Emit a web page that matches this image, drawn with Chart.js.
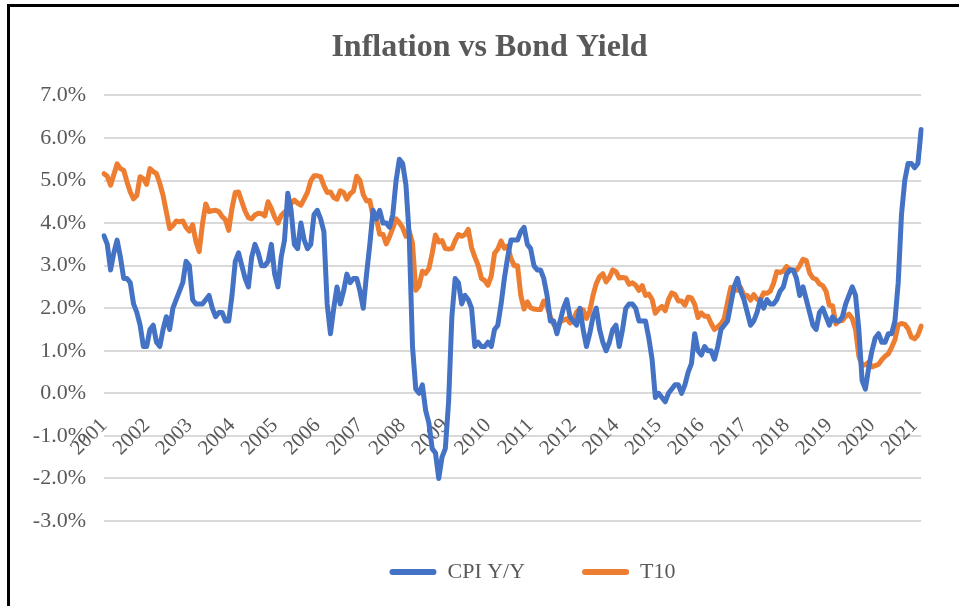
<!DOCTYPE html>
<html>
<head>
<meta charset="utf-8">
<script src="https://cdn.jsdelivr.net/npm/chart.js@4/dist/chart.umd.min.js"></script>
<style>
  html, body { margin: 0; padding: 0; background: #ffffff; }
  #wrap { position: relative; width: 959px; height: 606px; overflow: hidden; }
  #c { position: absolute; left: 0; top: 0; }
  #frame { position: absolute; left: 7px; top: 4px; width: 960px; height: 610px;
           border-top: 3px solid #000; border-left: 3px solid #000; pointer-events: none; }
</style>
</head>
<body>
<div id="wrap">
  <canvas id="c" width="959" height="606"></canvas>
  <div id="frame"></div>
</div>
<script>
// Year tick labels shown on the category axis (one every 13 months, as in the source)
const yearLabels = ['2001','2002','2003','2004','2005','2006','2007','2008','2009','2010',
                    '2011','2012','2014','2015','2016','2017','2018','2019','2020','2021'];
const labelEvery = 13;

// CPI year-over-year, %, monthly Jan 2001 .. Oct 2021
const cpiYoY = [
  3.7, 3.5, 2.9, 3.3, 3.6, 3.2, 2.7, 2.7, 2.6, 2.1, 1.9, 1.6,
  1.1, 1.1, 1.5, 1.6, 1.2, 1.1, 1.5, 1.8, 1.5, 2.0, 2.2, 2.4,
  2.6, 3.1, 3.0, 2.2, 2.1, 2.1, 2.1, 2.2, 2.3, 2.0, 1.8, 1.9,
  1.9, 1.7, 1.7, 2.3, 3.1, 3.3, 3.0, 2.7, 2.5, 3.2, 3.5, 3.3,
  3.0, 3.0, 3.1, 3.5, 2.8, 2.5, 3.2, 3.6, 4.7, 4.3, 3.5, 3.4,
  4.0, 3.6, 3.4, 3.5, 4.2, 4.3, 4.1, 3.8, 2.1, 1.4, 2.0, 2.5,
  2.1, 2.4, 2.8, 2.6, 2.7, 2.7, 2.4, 2.0, 2.8, 3.5, 4.3, 4.1,
  4.3, 4.0, 4.0, 3.9, 4.2, 5.0, 5.5, 5.4, 4.9, 3.7, 1.1, 0.1,
  0.0, 0.2, -0.4, -0.7, -1.3, -1.4, -2.0, -1.5, -1.3, -0.2, 1.8, 2.7,
  2.6, 2.1, 2.3, 2.2, 2.0, 1.1, 1.2, 1.1, 1.1, 1.2, 1.1, 1.5,
  1.6, 2.1, 2.7, 3.2, 3.6, 3.6, 3.6, 3.8, 3.9, 3.5, 3.4, 3.0,
  2.9, 2.9, 2.7, 2.3, 1.7, 1.7, 1.4, 1.7, 2.0, 2.2, 1.8, 1.7,
  1.6, 2.0, 1.5, 1.1, 1.4, 1.8, 2.0, 1.5, 1.2, 1.0, 1.2, 1.5,
  1.6, 1.1, 1.5, 2.0, 2.1, 2.1, 2.0, 1.7, 1.7, 1.7, 1.3, 0.8,
  -0.1, 0.0, -0.1, -0.2, 0.0, 0.1, 0.2, 0.2, 0.0, 0.2, 0.5, 0.7,
  1.4, 1.0, 0.9, 1.1, 1.0, 1.0, 0.8, 1.1, 1.5, 1.6, 1.7, 2.1,
  2.5, 2.7, 2.4, 2.2, 1.9, 1.6, 1.7, 1.9, 2.2, 2.0, 2.2, 2.1,
  2.1, 2.2, 2.4, 2.5, 2.8, 2.9, 2.9, 2.7, 2.3, 2.5, 2.2, 1.9,
  1.6, 1.5, 1.9, 2.0, 1.8, 1.6, 1.8, 1.7, 1.7, 1.8, 2.1, 2.3,
  2.5, 2.3, 1.5, 0.3, 0.1, 0.6, 1.0, 1.3, 1.4, 1.2, 1.2, 1.4,
  1.4, 1.7, 2.6, 4.2, 5.0, 5.4, 5.4, 5.3, 5.4, 6.2
];

// 10-year Treasury yield, %, monthly Jan 2001 .. Oct 2021
const t10 = [
  5.16, 5.10, 4.89, 5.14, 5.39, 5.28, 5.24, 4.97, 4.73, 4.57, 4.65, 5.09,
  5.04, 4.91, 5.28, 5.21, 5.16, 4.93, 4.65, 4.26, 3.87, 3.94, 4.05, 4.03,
  4.05, 3.90, 3.81, 3.96, 3.57, 3.33, 3.98, 4.45, 4.27, 4.29, 4.30, 4.27,
  4.15, 4.08, 3.83, 4.35, 4.72, 4.73, 4.50, 4.28, 4.13, 4.10, 4.19, 4.23,
  4.22, 4.17, 4.50, 4.34, 4.14, 4.00, 4.18, 4.26, 4.20, 4.46, 4.54, 4.47,
  4.42, 4.57, 4.72, 4.99, 5.11, 5.11, 5.09, 4.88, 4.72, 4.73, 4.60, 4.56,
  4.76, 4.72, 4.56, 4.69, 4.75, 5.10, 5.00, 4.67, 4.52, 4.53, 4.15, 4.10,
  3.74, 3.74, 3.51, 3.68, 3.88, 4.10, 4.01, 3.89, 3.69, 3.81, 3.53, 2.42,
  2.52, 2.87, 2.82, 2.93, 3.29, 3.72, 3.56, 3.59, 3.40, 3.39, 3.40, 3.59,
  3.73, 3.69, 3.73, 3.85, 3.42, 3.20, 3.01, 2.70, 2.65, 2.54, 2.76, 3.29,
  3.39, 3.58, 3.41, 3.46, 3.17, 3.00, 3.00, 2.30, 1.98, 2.15, 2.01, 1.98,
  1.97, 1.97, 2.17, 2.05, 1.80, 1.62, 1.53, 1.68, 1.72, 1.75, 1.65, 1.72,
  1.91, 1.98, 1.96, 1.76, 1.93, 2.30, 2.58, 2.74, 2.81, 2.62, 2.72, 2.90,
  2.86, 2.71, 2.72, 2.71, 2.56, 2.60, 2.54, 2.42, 2.53, 2.30, 2.33, 2.21,
  1.88, 1.98, 2.04, 1.94, 2.20, 2.36, 2.32, 2.17, 2.17, 2.07, 2.26, 2.24,
  2.09, 1.78, 1.89, 1.81, 1.81, 1.64, 1.50, 1.56, 1.63, 1.76, 2.14, 2.49,
  2.43, 2.42, 2.48, 2.30, 2.30, 2.19, 2.32, 2.21, 2.20, 2.36, 2.35, 2.40,
  2.58, 2.86, 2.84, 2.87, 2.98, 2.91, 2.89, 2.89, 3.00, 3.15, 3.12, 2.83,
  2.71, 2.68, 2.57, 2.53, 2.40, 2.07, 2.06, 1.63, 1.70, 1.71, 1.81, 1.86,
  1.76, 1.50, 0.87, 0.66, 0.67, 0.73, 0.62, 0.65, 0.68, 0.79, 0.87, 0.93,
  1.08, 1.26, 1.61, 1.64, 1.62, 1.52, 1.32, 1.28, 1.37, 1.58
];

const seriesNames = ['CPI Y/Y', 'T10'];
const chartTitle = 'Inflation vs Bond Yield';

// Category labels: a year label every 13th month, blank otherwise
const categories = cpiYoY.map((_, i) => (i % labelEvery === 0 && yearLabels[i / labelEvery]) ? yearLabels[i / labelEvery] : '');

const SERIF = '"Liberation Serif", "Times New Roman", serif';
const TXT = '#595959';

// Nudge title and legend boxes to sit where the source chart has them
const boxNudge = {
  id: 'boxNudge',
  afterLayout(chart) {
    const lg = chart.legend;
    if (lg) { lg.left += 66; lg.right += 66; lg.top -= 17; }
    const tb = chart.titleBlock;
    if (tb) { tb.left += 23; tb.right += 23; }
  }
};

new Chart(document.getElementById('c'), {
  type: 'line',
  data: {
    labels: categories,
    datasets: [
      { label: seriesNames[0], data: cpiYoY, borderColor: '#4472C4', backgroundColor: '#4472C4',
        borderWidth: 5, pointRadius: 0, tension: 0, borderJoinStyle: 'round', borderCapStyle: 'round' },
      { label: seriesNames[1], data: t10, borderColor: '#ED7D31', backgroundColor: '#ED7D31',
        borderWidth: 5, pointRadius: 0, tension: 0, borderJoinStyle: 'round', borderCapStyle: 'round' }
    ]
  },
  options: {
    responsive: false,
    animation: false,
    events: [],
    layout: { padding: { top: 8, left: 10, right: 36, bottom: 13 } },
    plugins: {
      title: {
        display: true, text: chartTitle, color: TXT,
        font: { family: SERIF, size: 32, weight: 'bold' },
        padding: { top: 21, bottom: 28 }
      },
      legend: {
        position: 'bottom',
        maxHeight: 72,
        labels: {
          color: TXT, font: { family: SERIF, size: 22 },
          boxWidth: 47, boxHeight: 6, padding: 57,
          useBorderRadius: true, borderRadius: 3,
          generateLabels(chart) {
            const items = Chart.defaults.plugins.legend.labels.generateLabels(chart);
            items.forEach(it => { it.lineWidth = 0; it.fillStyle = it.strokeStyle; });
            return items;
          }
        }
      },
      tooltip: { enabled: false }
    },
    scales: {
      x: {
        position: { y: 0 },
        grid: { display: false, drawTicks: false },
        border: { display: false },
        ticks: {
          autoSkip: false, minRotation: 45, maxRotation: 45,
          color: TXT, font: { family: SERIF, size: 21 }, padding: 20, labelOffset: 0
        }
      },
      y: {
        min: -3, max: 7,
        grid: { color: '#d9d9d9', lineWidth: 2, drawTicks: false },
        border: { display: false },
        ticks: {
          stepSize: 1, color: TXT, font: { family: SERIF, size: 22 }, padding: 18,
          callback: v => v.toFixed(1) + '%'
        },
        afterFit(scale) { scale.width = 94; }
      }
    }
  },
  plugins: [boxNudge]
});
</script>
</body>
</html>
